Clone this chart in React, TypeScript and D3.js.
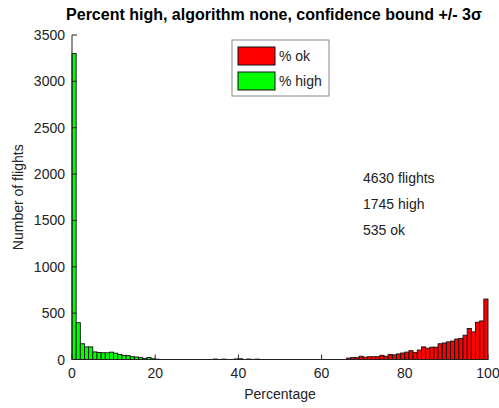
import React, { useRef, useEffect } from 'react';
import * as d3 from 'd3';

// histogram counts, one per 1% bin (0..99)
const highCounts = [
  3300, 397, 170, 136, 136, 82, 76, 73, 72, 79,
  68, 55, 45, 42, 30, 27, 20, 12, 22, 8,
  3, 0, 0, 0, 0, 0, 0, 0, 0, 0,
  0, 0, 0, 0, 5, 0, 4, 0, 0, 6,
  8, 0, 5, 0, 4, 0, 0, 0, 0, 0,
  0, 0, 0, 0, 0, 0, 0, 0, 0, 0,
  0, 0, 0, 0, 0, 0, 0, 0, 0, 0,
  0, 0, 0, 0, 0, 0, 0, 0, 0, 0,
  0, 0, 0, 0, 0, 0, 0, 0, 0, 0,
  0, 0, 0, 0, 0, 0, 0, 0, 0, 0,
];

const okCounts = [
  0, 0, 0, 0, 0, 0, 0, 0, 0, 0,
  0, 0, 0, 0, 0, 0, 0, 0, 0, 0,
  0, 0, 0, 0, 0, 0, 0, 0, 0, 0,
  0, 0, 0, 0, 0, 0, 0, 0, 0, 0,
  0, 0, 0, 0, 0, 0, 0, 0, 0, 0,
  0, 0, 0, 0, 0, 0, 0, 0, 0, 0,
  0, 0, 0, 0, 0, 0, 15, 20, 20, 35,
  25, 30, 30, 30, 45, 35, 55, 50, 60, 70,
  80, 95, 74, 102, 136, 122, 133, 133, 170, 178,
  190, 199, 221, 228, 262, 334, 298, 402, 416, 652,
];

const xTicks = [0, 20, 40, 60, 80, 100];
const yTicks = [0, 500, 1000, 1500, 2000, 2500, 3000, 3500];
const legendItems = [
  { label: '% ok', color: '#ff0000' },
  { label: '% high', color: '#00ff00' },
];
const notes = ['4630 flights', '1745 high', '535 ok'];
const title = 'Percent high, algorithm none, confidence bound +/- 3σ';

const App = () => {
  const svgRef = useRef(null);

  useEffect(() => {
    const svg = d3.select(svgRef.current);
    svg.selectAll('*').remove();

    const width = 499;
    const height = 408;
    const margin = { top: 35, right: 11, bottom: 48.5, left: 72 };
    const font = '"Liberation Sans", Arial, sans-serif';
    const ink = '#222';

    const x = d3.scaleLinear().domain([0, 100]).range([margin.left, width - margin.right]);
    const y = d3.scaleLinear().domain([0, 3500]).range([height - margin.bottom, margin.top]);

    svg.append('rect').attr('width', width).attr('height', height).attr('fill', '#fff');

    const drawBars = (counts, color) => {
      svg
        .append('g')
        .selectAll('rect')
        .data(counts.map((c, i) => ({ bin: i, count: c })).filter(d => d.count > 0))
        .enter()
        .append('rect')
        .attr('x', d => x(d.bin))
        .attr('y', d => y(d.count))
        .attr('width', x(1) - x(0))
        .attr('height', d => y(0) - y(d.count))
        .attr('fill', color)
        .attr('stroke', '#111')
        .attr('stroke-width', 0.9);
    };
    drawBars(okCounts, '#ff0000');
    drawBars(highCounts, '#00ff00');

    // axes (MATLAB style, ticks pointing inward)
    const axes = svg.append('g').attr('stroke', ink).attr('stroke-width', 1).attr('fill', 'none');
    axes.append('line').attr('x1', x(0)).attr('x2', x(100)).attr('y1', y(0)).attr('y2', y(0));
    axes.append('line').attr('x1', x(0)).attr('x2', x(0)).attr('y1', y(0)).attr('y2', y(3500));
    xTicks.forEach(t => {
      axes.append('line').attr('x1', x(t)).attr('x2', x(t)).attr('y1', y(0)).attr('y2', y(0) - 5);
    });
    yTicks.forEach(t => {
      axes.append('line').attr('x1', x(0)).attr('x2', x(0) + 5).attr('y1', y(t)).attr('y2', y(t));
    });

    svg
      .append('g')
      .selectAll('text')
      .data(xTicks)
      .enter()
      .append('text')
      .attr('x', d => x(d))
      .attr('y', y(0) + 18)
      .attr('text-anchor', 'middle')
      .attr('font-family', font)
      .attr('font-size', 14)
      .attr('fill', ink)
      .text(d => d);

    svg
      .append('g')
      .selectAll('text')
      .data(yTicks)
      .enter()
      .append('text')
      .attr('x', x(0) - 7)
      .attr('y', d => y(d) + 5)
      .attr('text-anchor', 'end')
      .attr('font-family', font)
      .attr('font-size', 14)
      .attr('fill', ink)
      .text(d => d);

    svg
      .append('text')
      .attr('x', (x(0) + x(100)) / 2)
      .attr('y', 399)
      .attr('text-anchor', 'middle')
      .attr('font-family', font)
      .attr('font-size', 14)
      .attr('fill', ink)
      .text('Percentage');

    svg
      .append('text')
      .attr('transform', `translate(23, ${(y(0) + y(3500)) / 2}) rotate(-90)`)
      .attr('text-anchor', 'middle')
      .attr('font-family', font)
      .attr('font-size', 14)
      .attr('fill', ink)
      .text('Number of flights');

    svg
      .append('text')
      .attr('x', 274)
      .attr('y', 20)
      .attr('text-anchor', 'middle')
      .attr('font-family', font)
      .attr('font-size', 16)
      .attr('font-weight', 'bold')
      .attr('fill', '#000')
      .text(title);

    // legend
    const lg = svg.append('g').attr('transform', 'translate(232, 40)');
    lg.append('rect')
      .attr('width', 97)
      .attr('height', 56)
      .attr('fill', '#fff')
      .attr('stroke', '#888');
    legendItems.forEach((item, i) => {
      lg.append('rect')
        .attr('x', 6)
        .attr('y', 7 + i * 25)
        .attr('width', 37)
        .attr('height', 18)
        .attr('fill', item.color)
        .attr('stroke', '#111');
      lg.append('text')
        .attr('x', 47)
        .attr('y', 21 + i * 25)
        .attr('font-family', font)
        .attr('font-size', 14)
        .attr('fill', ink)
        .text(item.label);
    });

    svg
      .append('g')
      .selectAll('text')
      .data(notes)
      .enter()
      .append('text')
      .attr('x', 363)
      .attr('y', (d, i) => 183 + i * 26)
      .attr('font-family', font)
      .attr('font-size', 14)
      .attr('fill', ink)
      .text(d => d);
  }, []);

  return (
    <div style={{ position: 'absolute', left: 0, top: 0 }}>
      <svg ref={svgRef} width={499} height={408} style={{ display: 'block' }} />
    </div>
  );
};

export default App;
